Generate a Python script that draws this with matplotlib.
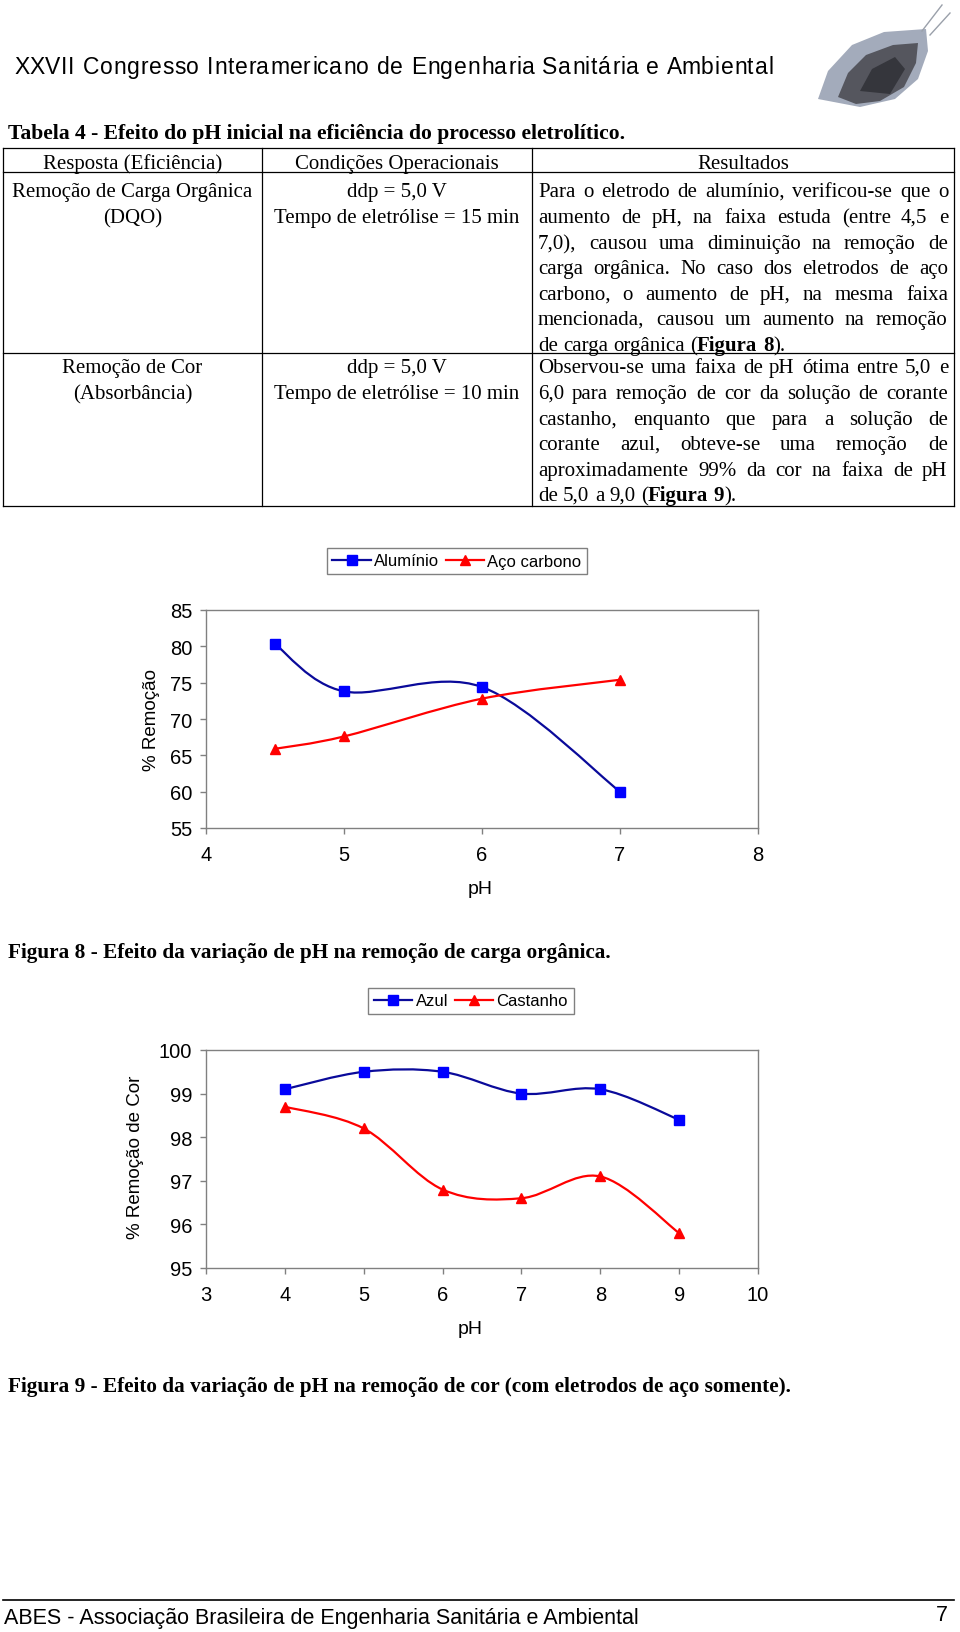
import numpy as np
import matplotlib
matplotlib.use('Agg')
import matplotlib.pyplot as plt
from matplotlib.path import Path
from matplotlib.patches import PathPatch, Polygon
from matplotlib.lines import Line2D

# Dados - Figura 8
ph_fig8 = [4.5, 5, 6, 7]
aluminio = [80.3, 73.8, 74.4, 60.0]
aco_carbono = [65.9, 67.6, 72.8, 75.4]
xticks_fig8 = [4, 5, 6, 7, 8]
yticks_fig8 = [55, 60, 65, 70, 75, 80, 85]

# Dados - Figura 9
ph_fig9 = [4, 5, 6, 7, 8, 9]
azul = [99.1, 99.5, 99.5, 99.0, 99.1, 98.4]
castanho = [98.7, 98.2, 96.8, 96.6, 97.1, 95.8]
xticks_fig9 = [3, 4, 5, 6, 7, 8, 9, 10]
yticks_fig9 = [95, 96, 97, 98, 99, 100]

# Textos da tabela
cabecalho = ['Resposta (Eficiência)', 'Condições Operacionais', 'Resultados']
resposta = [['Remoção de Carga Orgânica', '(DQO)'], ['Remoção de Cor', '(Absorbância)']]
condicoes = [['ddp = 5,0 V', 'Tempo de eletrólise = 15 min'],
             ['ddp = 5,0 V', 'Tempo de eletrólise = 10 min']]
resultados = [
    ['Para o eletrodo de alumínio, verificou-se que o',
     'aumento de pH, na faixa estuda (entre 4,5 e',
     '7,0), causou uma diminuição na remoção de',
     'carga orgânica. No caso dos eletrodos de aço',
     'carbono, o aumento de pH, na mesma faixa',
     'mencionada, causou um aumento na remoção',
     'de carga orgânica (**Figura 8**).'],
    ['Observou-se uma faixa de pH ótima entre 5,0 e',
     '6,0 para remoção de cor da solução de corante',
     'castanho, enquanto que para a solução de',
     'corante azul, obteve-se uma remoção de',
     'aproximadamente 99% da cor na faixa de pH',
     'de 5,0 a 9,0 (**Figura 9**).'],
]

SERIF = 'Liberation Serif'
SANS = 'Liberation Sans'
FS_TAB = 15
FS_BOLD = 15.3
W, H = 960, 1633

fig = plt.figure(figsize=(W / 100, H / 100), dpi=100)
bg = fig.add_axes([0, 0, 1, 1])
bg.set_xlim(0, W)
bg.set_ylim(H, 0)
bg.axis('off')
rend = fig.canvas.get_renderer()


def largura(t):
    return t.get_window_extent(rend).width


def medir(txt, size, family, weight='normal'):
    t = bg.text(0, 0, txt, fontsize=size, family=family, fontweight=weight)
    w = largura(t)
    t.remove()
    return w


def texto(x, y, txt, size=FS_TAB, ha='left', weight='normal', family=SERIF):
    # y = centro da linha; posiciona pela linha de base
    return bg.text(x, round(y + 0.33 * size * 100 / 72), txt, fontsize=size, family=family,
                   fontweight=weight, ha=ha, va='baseline')


def linha(txt, x0, y, x1=None, size=FS_TAB):
    # escreve uma linha, justificada se x1 for dado; **negrito**
    palavras = []
    negrito = False
    for w in txt.split(' '):
        segs = []
        for i, p in enumerate(w.split('**')):
            if i > 0:
                negrito = not negrito
            if p:
                segs.append((p, negrito))
        palavras.append(segs)
    objs, larg = [], []
    for segs in palavras:
        ws, lw = [], 0
        for s, b in segs:
            t = texto(0, y, s, size, weight='bold' if b else 'normal')
            w = largura(t)
            ws.append((t, w))
            lw += w
        objs.append(ws)
        larg.append(lw)
    if x1 is None:
        esp = medir('n n', size, SERIF) - medir('nn', size, SERIF)
    else:
        esp = (x1 - x0 - sum(larg)) / (len(palavras) - 1)
    x = x0
    for ws, lw in zip(objs, larg):
        xx = x
        for t, w in ws:
            t.set_x(round(xx))
            xx += w
        x += lw + esp


def espacado(txt, x0, x1, y, size):
    # texto com espaçamento entre letras para ocupar x0..x1
    ts = [texto(0, y, c, size, family=SANS) for c in txt]
    barra = medir('|', size, SANS)
    pref = [medir(txt[:i] + '|', size, SANS) - barra for i in range(len(txt))]
    extra = (x1 - x0 - medir(txt, size, SANS)) / (len(txt) - 1)
    for i, t in enumerate(ts):
        t.set_x(round(x0 + pref[i] + i * extra))


# Cabeçalho da página
espacado('XXVII Congresso Interamericano de Engenharia Sanitária e Ambiental', 13.5, 773, 66, 16.5)

# logotipo aproximado
bg.add_patch(Polygon([(818, 100), (828, 72), (852, 46), (884, 33), (926, 30), (928, 52),
                      (918, 80), (895, 100), (860, 108)], closed=True, fc='#a3abbb', ec='none'))
bg.add_patch(Polygon([(838, 98), (848, 74), (866, 56), (893, 46), (918, 44), (916, 64),
                      (904, 88), (880, 102), (856, 105)], closed=True, fc='#55565e', ec='none'))
bg.add_patch(Polygon([(860, 92), (872, 70), (895, 58), (905, 70), (890, 95)], closed=True,
                     fc='#35363c', ec='none'))
bg.plot([922, 942], [32, 6], color='#9aa0aa', lw=1)
bg.plot([930, 950], [36, 14], color='#9aa0aa', lw=1)

# Tabela
texto(8, 132, 'Tabela 4 - Efeito do pH inicial na eficiência do processo eletrolítico.',
      15.6, weight='bold')
xs = [3, 262, 532, 954]
ys = [149, 173, 354, 507]
for y in ys:
    bg.plot([xs[0], xs[-1]], [y, y], color='black', lw=0.9)
for x in xs:
    bg.plot([x, x], [ys[0], ys[-1]], color='black', lw=0.9)
centros = [(xs[i] + xs[i + 1]) / 2 for i in range(3)]
for c, txt in zip(centros, cabecalho):
    texto(c, 162.5, txt, ha='center')

passo = 25.6
for r, y0 in enumerate([190.5, 366.5]):
    for k, txt in enumerate(resposta[r]):
        texto(centros[0], y0 + k * passo, txt, ha='center')
    for k, txt in enumerate(condicoes[r]):
        texto(centros[1], y0 + k * passo, txt, ha='center')
    for k, txt in enumerate(resultados[r]):
        ultima = k == len(resultados[r]) - 1
        linha(txt, 538, y0 + k * passo, None if ultima else 948)


def curva_suave(ax, x, y, cor):
    p = np.column_stack([x, y]).astype(float)
    ext = np.vstack([p[0], p, p[-1]])
    verts, codes = [p[0]], [Path.MOVETO]
    for i in range(len(p) - 1):
        c1 = p[i] + (ext[i + 2] - ext[i]) / 6
        c2 = p[i + 1] - (ext[i + 3] - ext[i + 1]) / 6
        verts += [c1, c2, p[i + 1]]
        codes += [Path.CURVE4] * 3
    ax.add_patch(PathPatch(Path(verts, codes), fill=False, edgecolor=cor, lw=1.6, zorder=2))


def grafico(caixa, x, series, xticks, yticks, leg_centro, ylabel, ylab_pos, xlab_pos):
    l, t, r, b = caixa
    ax = fig.add_axes([l / W, 1 - b / H, (r - l) / W, (b - t) / H])
    handles = []
    for vals, nome, linecor, mcor, mk in series:
        curva_suave(ax, x, vals, linecor)
        ax.plot(x, vals, linestyle='none', marker=mk, ms=7.5, mfc=mcor, mec=mcor, zorder=3)
        handles.append(Line2D([], [], color=linecor, lw=1.6, marker=mk, ms=7.5, mfc=mcor, mec=mcor))
    ax.set_xlim(xticks[0], xticks[-1])
    ax.set_ylim(yticks[0], yticks[-1])
    ax.set_xticks(xticks)
    ax.set_yticks(yticks)
    for s in ax.spines.values():
        s.set_color('#808080')
        s.set_linewidth(1.0)
    ax.tick_params(direction='out', length=4, width=1, color='#808080', labelsize=14.5, pad=6)
    ax.tick_params(axis='x', pad=8)
    for lb in ax.get_xticklabels() + ax.get_yticklabels():
        lb.set_family(SANS)
    leg = ax.legend(handles, [s[1] for s in series], loc='center',
                    bbox_to_anchor=(leg_centro[0] / W, 1 - leg_centro[1] / H),
                    bbox_transform=fig.transFigure, ncol=2, fancybox=False,
                    edgecolor='#808080', framealpha=1, prop={'family': SANS, 'size': 12},
                    handlelength=2.3, handletextpad=0.2, columnspacing=0.4, borderpad=0.35)
    leg.get_frame().set_linewidth(1.0)
    bg.text(ylab_pos[0], ylab_pos[1], ylabel, rotation=90, fontsize=13.5, family=SANS,
            ha='center', va='center')
    bg.text(xlab_pos[0], xlab_pos[1], 'pH', fontsize=14, family=SANS, ha='center', va='center')
    return ax


grafico((206, 611, 758, 829), ph_fig8,
        [(aluminio, 'Alumínio', '#0a0a9a', '#0000ff', 's'),
         (aco_carbono, 'Aço carbono', '#ff0000', '#ff0000', '^')],
        xticks_fig8, yticks_fig8, (457, 562), '% Remoção', (151, 720), (480, 890))
texto(8, 951, 'Figura 8 - Efeito da variação de pH na remoção de carga orgânica.',
      FS_BOLD, weight='bold')

grafico((206, 1051, 758, 1269), ph_fig9,
        [(azul, 'Azul', '#0a0a9a', '#0000ff', 's'),
         (castanho, 'Castanho', '#ff0000', '#ff0000', '^')],
        xticks_fig9, yticks_fig9, (471, 1002), '% Remoção de Cor', (136, 1157), (470, 1330))
texto(8, 1385, 'Figura 9 - Efeito da variação de pH na remoção de cor (com eletrodos de aço somente).',
      FS_BOLD, weight='bold')

# Rodapé
bg.plot([3, 954], [1601, 1601], color='black', lw=1.2)
texto(4, 1617, 'ABES - Associação Brasileira de Engenharia Sanitária e Ambiental', 15.5, family=SANS)
texto(948, 1614, '7', 15.5, ha='right', family=SANS)

fig.savefig('out.png', dpi=100)
